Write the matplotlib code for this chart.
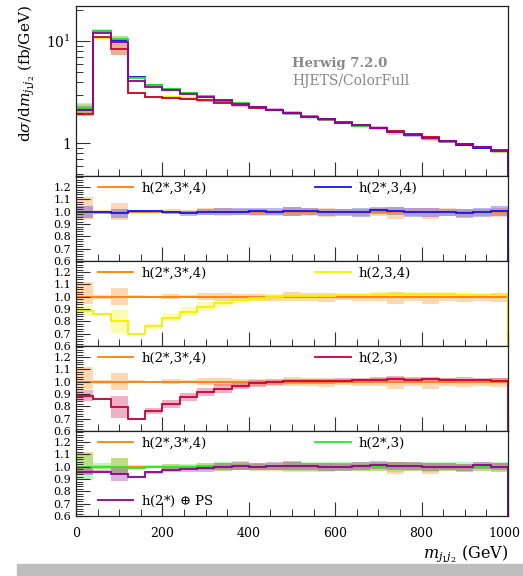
import numpy as np
import matplotlib
matplotlib.use('Agg')
import matplotlib.pyplot as plt
import matplotlib.transforms as mtransforms
from matplotlib.lines import Line2D
from matplotlib.legend import Legend
from matplotlib.patches import Rectangle
from matplotlib.ticker import MultipleLocator, NullFormatter

plt.rcParams['font.family'] = 'DejaVu Serif'
plt.rcParams['mathtext.fontset'] = 'dejavuserif'

# 40 GeV bins from 0 to 1000
edges = np.arange(0, 1001, 40)
xticks = [0, 200, 400, 600, 800, 1000]
rticks = [0.6, 0.7, 0.8, 0.9, 1.0, 1.1, 1.2]

# reference h(2*,3*,4), fb/GeV
ref = [2.2, 12.6, 10.4, 4.43, 3.73, 3.41, 3.13, 2.88, 2.64, 2.44, 2.25, 2.12, 1.97,
       1.82, 1.72, 1.59, 1.49, 1.40, 1.29, 1.21, 1.13, 1.05, 0.98, 0.914, 0.847]
ref_up = [0.12, 0.015, 0.07, 0.012, 0.005, 0.02, 0.012, 0.03, 0.03, 0.022, 0.022, 0.017, 0.038,
          0.033, 0.027, 0.022, 0.022, 0.03, 0.035, 0.03, 0.027, 0.027, 0.022, 0.022, 0.027]
ref_dn = [0.06, 0.015, 0.065, 0.012, 0.005, 0.02, 0.012, 0.03, 0.033, 0.027, 0.033, 0.033, 0.033,
          0.033, 0.046, 0.027, 0.033, 0.033, 0.055, 0.033, 0.06, 0.033, 0.046, 0.033, 0.046]

# ratios to the reference
blue_r = [0.995, 0.995, 0.986, 1.003, 1.003, 0.995, 0.986, 0.995, 1.0, 1.0, 1.003, 1.0, 1.003,
          1.003, 0.995, 0.995, 0.995, 1.011, 1.005, 0.995, 0.995, 0.995, 0.986, 0.995, 1.003]
yellow_r = [0.885, 0.858, 0.8, 0.70, 0.762, 0.83, 0.88, 0.918, 0.95, 0.973, 0.99, 1.0, 1.005,
            1.005, 1.008, 1.01, 1.012, 1.015, 1.02, 1.015, 1.018, 1.015, 1.015, 1.012, 1.01]
red_r = [0.885, 0.86, 0.795, 0.695, 0.76, 0.82, 0.877, 0.918, 0.945, 0.967, 0.986, 1.0, 1.003,
         1.005, 1.005, 1.008, 1.01, 1.016, 1.022, 1.016, 1.02, 1.014, 1.016, 1.014, 1.008]
green_r = [1.0, 1.0, 1.0, 0.99, 1.0, 1.0, 1.0, 1.003, 1.003, 1.008, 1.0, 1.0, 1.0,
           1.0, 1.0, 1.0, 1.0, 1.0, 1.0, 1.0, 1.0, 1.0, 1.0, 1.0, 1.0]
purple_r = [0.96, 0.96, 0.94, 0.918, 0.954, 0.973, 0.98, 0.986, 1.0, 1.005, 1.0, 1.005, 1.008,
            1.003, 0.997, 0.997, 1.005, 1.014, 1.005, 1.005, 0.997, 1.0, 0.995, 1.011, 1.0]

# relative errors
blue_err = [0.05, 0.01, 0.04, 0.01, 0.005, 0.015, 0.02, 0.025, 0.03, 0.03, 0.03, 0.03, 0.035,
            0.03, 0.03, 0.03, 0.035, 0.03, 0.035, 0.035, 0.035, 0.03, 0.035, 0.035, 0.04]
yellow_err = [0.05, 0.01, 0.12, 0.01, 0.03, 0.035, 0.045, 0.04, 0.035, 0.025, 0.025, 0.025, 0.02,
              0.02, 0.02, 0.02, 0.02, 0.02, 0.02, 0.02, 0.02, 0.02, 0.02, 0.02, 0.02]
red_err = [0.05, 0.01, 0.11, 0.012, 0.03, 0.04, 0.04, 0.035, 0.035, 0.03, 0.03, 0.025, 0.02,
           0.02, 0.02, 0.02, 0.02, 0.02, 0.02, 0.02, 0.02, 0.02, 0.02, 0.02, 0.02]
green_err = [0.11, 0.03, 0.07, 0.01, 0.01, 0.02, 0.02, 0.03, 0.035, 0.035, 0.03, 0.03, 0.04,
             0.04, 0.035, 0.035, 0.035, 0.035, 0.04, 0.035, 0.04, 0.035, 0.04, 0.035, 0.04]
purple_err = [0.03, 0.01, 0.06, 0.01, 0.01, 0.02, 0.02, 0.03, 0.03, 0.03, 0.03, 0.03, 0.035,
              0.03, 0.03, 0.03, 0.03, 0.03, 0.03, 0.03, 0.03, 0.03, 0.03, 0.03, 0.03]

labels = {'ref': r'h(2*,3*,4)', 'blue': r'h(2*,3,4)', 'yellow': r'h(2,3,4)',
          'red': r'h(2,3)', 'green': r'h(2*,3)', 'purple': r'h(2*) $\oplus$ PS'}
colors = {'ref': '#ff7f00', 'blue': '#1414f0', 'yellow': '#f2f200',
          'red': '#c8003c', 'green': '#22ee22', 'purple': '#92009a'}

ref = np.array(ref)
ones = np.ones(len(ref))
series = {
    'ref': (ones, None),
    'blue': (np.array(blue_r), np.array(blue_err)),
    'yellow': (np.array(yellow_r), np.array(yellow_err)),
    'green': (np.array(green_r), np.array(green_err)),
    'red': (np.array(red_r), np.array(red_err)),
    'purple': (np.array(purple_r), np.array(purple_err)),
}


def band(name):
    r, e = series[name]
    if name == 'ref':
        return 1 - np.array(ref_dn), 1 + np.array(ref_up)
    return r * (1 - e), r * (1 + e)


W, H = 523, 576
fig = plt.figure(figsize=(W / 100, H / 100), dpi=100)
fig.patches.append(Rectangle((17 / W, 0), (W - 17) / W, 12 / H, transform=fig.transFigure,
                             color='#bdbdbd', zorder=0))

L, R = 76, 508


def make_ax(top, bot):
    return fig.add_axes([L / W, 1 - bot / H, (R - L) / W, (bot - top) / H])


def style(ax):
    for s in ax.spines.values():
        s.set_color('#222222')
        s.set_linewidth(0.9)
    ax.tick_params(which='both', direction='in', top=False, right=False, color='#333333',
                   labelsize=8)
    ax.tick_params(which='major', length=10, width=0.8)
    ax.tick_params(which='minor', length=5, width=0.7)
    ax.set_xticks(xticks)
    ax.xaxis.set_minor_locator(MultipleLocator(50))


# main panel
ax = make_ax(6, 176)
style(ax)
ax.set_yscale('log')
for name in ['ref', 'blue', 'yellow', 'green', 'red', 'purple']:
    lo, hi = band(name)
    ax.stairs(ref * hi, edges, baseline=ref * lo, fill=True, color=colors[name], alpha=0.3, lw=0)
for name in ['ref', 'blue', 'yellow', 'green', 'red', 'purple']:
    ax.stairs(ref * series[name][0], edges, color=colors[name], lw=1.3)
ax.set_xlim(0, 1000)
ax.set_ylim(0.48, 22)
ax.set_yticks([1, 10])
ax.set_yticklabels(['1', r'$10^{1}$'])
ax.tick_params(axis='y', labelsize=10)
ax.yaxis.set_minor_formatter(NullFormatter())
ax.set_xticklabels([])
ax.set_ylabel(r'd$\sigma$/d$m_{j_1j_2}$ (fb/GeV)', fontsize=11)
ax.yaxis.set_label_coords(-0.09, 0.6)
ax.text(0.5, 0.659, 'Herwig 7.2.0', transform=ax.transAxes, color='#888888',
        fontsize=9.5, fontweight='bold', va='center')
ax.text(0.5, 0.559, 'HJETS/ColorFull', transform=ax.transAxes, color='#888888',
        fontsize=10, va='center')


def key(ax, name, x, y):
    h = Line2D([], [], color=colors[name], lw=1.3)
    lg = Legend(ax, [h], [labels[name]], loc='center left', bbox_to_anchor=(x, y),
                frameon=False, fontsize=9.5, handlelength=2.7, handletextpad=0.6,
                borderpad=0, borderaxespad=0)
    ax.add_artist(lg)


panels = [['blue'], ['yellow'], ['red'], ['green', 'purple']]
tops = [176, 261, 346, 431]
for i, others in enumerate(panels):
    rax = make_ax(tops[i], tops[i] + 85)
    style(rax)
    for name in ['ref'] + others:
        lo, hi = band(name)
        rax.stairs(hi, edges, baseline=lo, fill=True, color=colors[name], alpha=0.3, lw=0)
    for name in ['ref'] + others:
        rax.stairs(series[name][0], edges, color=colors[name], lw=1.3)
    rax.set_xlim(0, 1000)
    rax.set_ylim(0.6, 1.29)
    rax.yaxis.set_minor_locator(MultipleLocator(0.02))
    rax.set_yticks(rticks)
    rax.set_yticklabels(['%.1f' % t for t in rticks])
    key(rax, 'ref', 0.05, 0.86)
    key(rax, others[0], 0.553, 0.86)
    if len(others) > 1:
        key(rax, others[1], 0.05, 0.176)
    if i < 3:
        rax.set_xticklabels([])
    else:
        rax.set_xticklabels([str(t) for t in xticks])
        rax.tick_params(axis='x', pad=8, labelsize=9)
        last = rax.get_xticklabels()[-1]
        last.set_transform(last.get_transform() +
                           mtransforms.ScaledTranslation(-4 / 100, 0, fig.dpi_scale_trans))
        rax.set_xlabel(r'$m_{j_1j_2}$ (GeV)', fontsize=11.5, ha='right', x=1.0, labelpad=2)

fig.savefig('out.png', dpi=100)
